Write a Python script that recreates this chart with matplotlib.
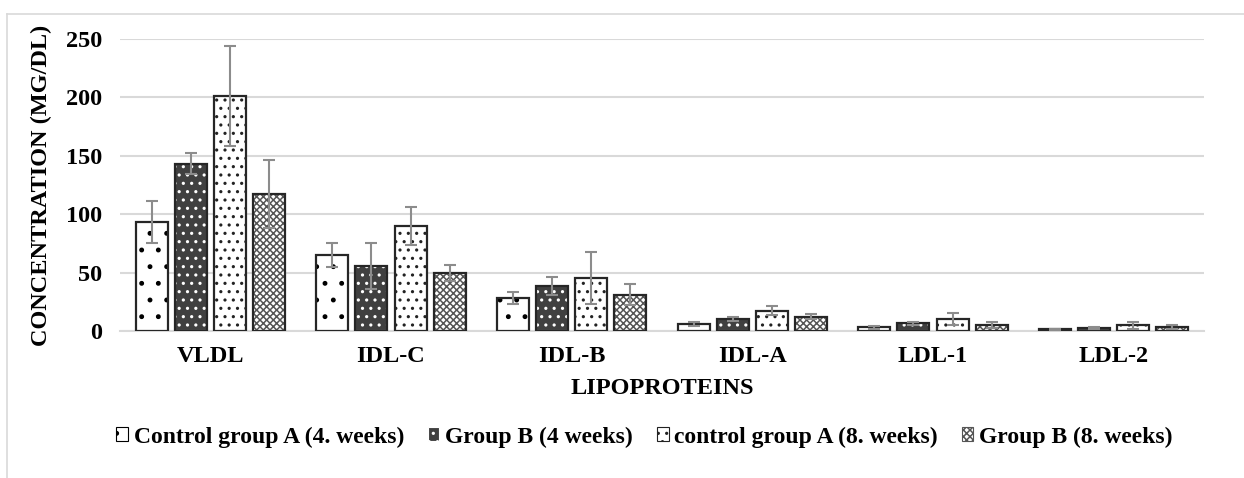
import numpy as np
import matplotlib
matplotlib.use('Agg')
import matplotlib.pyplot as plt
from matplotlib.patches import Patch
from matplotlib.lines import Line2D

categories = ['VLDL', 'IDL-C', 'IDL-B', 'IDL-A', 'LDL-1', 'LDL-2']
series_names = ['Control group A (4. weeks)', 'Group B (4 weeks)',
                'control group A (8. weeks)', 'Group B (8. weeks)']

ctrl_a_4 = [93, 65, 28, 5.7, 3.1, 1.4]
ctrl_a_4_err = [18, 10.5, 5, 1.7, 1.2, 0.6]
grp_b_4 = [143, 55.6, 38.5, 10, 6.6, 2.6]
grp_b_4_err = [9, 20, 8, 1.6, 1.4, 1.1]
ctrl_a_8 = [201, 90, 45.4, 17.4, 10.3, 4.9]
ctrl_a_8_err = [43, 16, 22, 4, 5.4, 3]
grp_b_8 = [117, 49.4, 31, 12.3, 5.4, 3.1]
grp_b_8_err = [29, 7, 9, 2, 2.6, 1.8]

values = [ctrl_a_4, grp_b_4, ctrl_a_8, grp_b_8]
errors = [ctrl_a_4_err, grp_b_4_err, ctrl_a_8_err, grp_b_8_err]

# (facecolor, hatch colour, hatch)
styles = [('white', 'black', '.'),
          ('#404040', 'white', '..'),
          ('white', '#222222', '..'),
          ('white', '#555555', 'xxxxx')]

plt.rcParams['font.family'] = ['Liberation Serif', 'DejaVu Serif']
plt.rcParams['font.weight'] = 'bold'
plt.rcParams['hatch.linewidth'] = 1.1

fs = 17.5
fig = plt.figure(figsize=(12.44, 4.78), dpi=100)
ax = fig.add_axes([120 / 1244, 1 - 331 / 478, 1084 / 1244, 292 / 478])

x = np.arange(len(categories))
step = 0.216
width = 0.177
for i in range(4):
    pos = x + (i - 1.5) * step
    fc, hc, h = styles[i]
    ax.bar(pos, values[i], width, color=fc, edgecolor=hc, hatch=h, linewidth=0, zorder=2)
    ax.bar(pos, values[i], width, fill=False, edgecolor='#262626', linewidth=1.6, zorder=3)
    ax.errorbar(pos, values[i], yerr=errors[i], fmt='none', ecolor='#8c8c8c',
                elinewidth=1.5, capsize=4.3, capthick=1.5, zorder=4)

ax.set_xlim(-0.5, 5.5)
ax.set_ylim(0, 250)
ax.set_yticks(np.arange(0, 251, 50))
ax.set_xticks(x)
ax.set_xticklabels(categories)
ax.tick_params(axis='both', length=0, labelsize=fs)
ax.tick_params(axis='y', pad=13)
ax.tick_params(axis='x', pad=11)
ax.grid(axis='y', color='#d9d9d9', linewidth=1.5, zorder=0)
ax.set_axisbelow(True)
for s in ['top', 'right', 'left']:
    ax.spines[s].set_visible(False)
ax.spines['bottom'].set_color('#d9d9d9')
ax.spines['bottom'].set_linewidth(1.5)

ax.set_xlabel('LIPOPROTEINS', fontsize=fs, fontweight='bold', labelpad=8)
ax.set_ylabel('CONCENTRATION (MG/DL)', fontsize=fs, fontweight='bold', labelpad=10)

handles = [Patch(facecolor=s[0], edgecolor=s[1], hatch=s[2], linewidth=0.8) for s in styles]
fig.legend(handles, series_names, loc='center', bbox_to_anchor=(0.518, 1 - 437 / 478),
           ncol=4, frameon=False, handlelength=0.5, handleheight=0.5,
           handletextpad=0.25, columnspacing=1.0, prop={'weight': 'bold', 'size': 17})

# chart frame
fig.add_artist(Line2D([7 / 1244, 1], [1 - 14 / 478] * 2, color='#d9d9d9', lw=1.2))
fig.add_artist(Line2D([7 / 1244] * 2, [0, 1 - 14 / 478], color='#d9d9d9', lw=1.2))

fig.savefig('out.png', dpi=100)
